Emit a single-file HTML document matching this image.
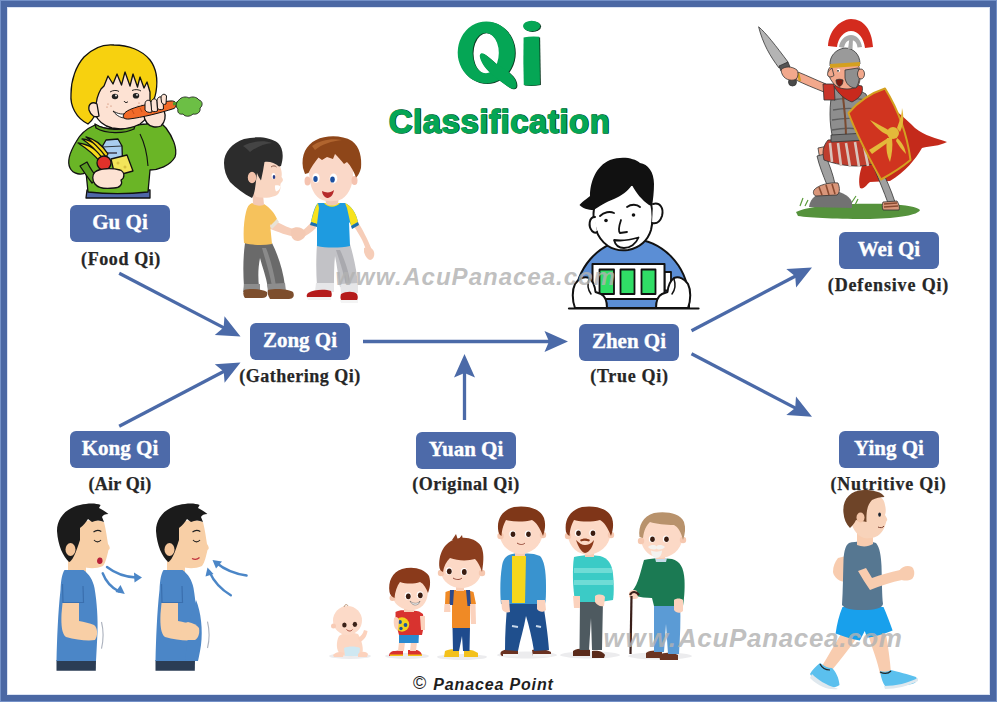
<!DOCTYPE html>
<html><head><meta charset="utf-8">
<style>
html,body{margin:0;padding:0;}
body{width:997px;height:702px;position:relative;overflow:hidden;background:#fff;font-family:"Liberation Sans",sans-serif;}
#frame{position:absolute;left:0;top:0;width:983px;height:688px;border:7px solid #4b68a4;background:#fff;}
#frame2{position:absolute;left:0;top:0;width:995px;height:700px;border:1px solid #7491c8;}
#frame3{position:absolute;left:7px;top:7px;width:981px;height:686px;border:1px solid #dbe3f3;}
.box{position:absolute;width:100px;height:37px;background:#4d6aa9;border-radius:6px;color:#fff;font:bold 21px/37px "Liberation Serif",serif;text-align:center;}
.box span{position:relative;top:-1px;-webkit-text-stroke:0.35px #fff;}
.sub{position:absolute;width:160px;margin-left:-80px;text-align:center;color:#262626;font:bold 18px/18px "Liberation Serif",serif;-webkit-text-stroke:0.25px #262626;}
.wm{position:absolute;color:rgba(178,178,178,0.82);font:bold italic 24px/24px "Liberation Sans",sans-serif;white-space:nowrap;}
svg{position:absolute;left:0;top:0;}
</style></head>
<body>
<div id="frame"></div><div id="frame2"></div><div id="frame3"></div>

<!-- title -->
<svg width="997" height="702" style="z-index:1">
<defs>
<g id="qi">
<path fill-rule="evenodd" d="M486.3,21.4 A28.6,31 0 1 1 486.29,21.4 Z M485.7,32.7 A13.1,20.3 0 1 0 485.71,32.7 Z"/>
<path d="M481,53.5 C484,52 490,59 498,65 C508,71 516.5,77 516.5,85 C516.5,90 512,89.5 507,86 C499,80 490,74 484,66 C480,60 478.5,55 481,53.5 Z"/>
<path d="M523.6,37.5 Q531,36 539.2,36.8 L540,84.5 Q531.5,86 523.8,85 Q523,60 523.6,37.5 Z"/>
<ellipse cx="531.6" cy="26" rx="8.6" ry="5.3"/>
</g>
</defs>
<use href="#qi" fill="#0c3b22" transform="translate(0.9,0.6)"/>
<use href="#qi" fill="#05a655"/>
<text x="389.1" y="133.4" font-family="Liberation Sans" font-weight="bold" font-size="33" letter-spacing="0.5" fill="#0d3a22" stroke="#0d3a22" stroke-width="1.3" stroke-linejoin="round">Classification</text>
<text x="388.5" y="132.8" font-family="Liberation Sans" font-weight="bold" font-size="33" letter-spacing="0.5" fill="#05a655" stroke="#05a655" stroke-width="1.1" stroke-linejoin="round">Classification</text>
</svg>

<div class="box" style="left:70px;top:205px"><span>Gu Qi</span></div>
<div class="box" style="left:250px;top:323px"><span>Zong Qi</span></div>
<div class="box" style="left:579px;top:324px"><span>Zhen Qi</span></div>
<div class="box" style="left:839px;top:232px"><span>Wei Qi</span></div>
<div class="box" style="left:70px;top:431px"><span>Kong Qi</span></div>
<div class="box" style="left:416px;top:432px"><span>Yuan Qi</span></div>
<div class="box" style="left:839px;top:431px"><span>Ying Qi</span></div>

<div class="sub" style="left:121px;top:249.5px;letter-spacing:0.6px">(Food Qi)</div>
<div class="sub" style="left:300px;top:366.8px;letter-spacing:0.5px">(Gathering Qi)</div>
<div class="sub" style="left:629.5px;top:366.8px;letter-spacing:0.7px">(True Qi)</div>
<div class="sub" style="left:888.5px;top:275.6px;letter-spacing:0.85px">(Defensive Qi)</div>
<div class="sub" style="left:120px;top:474.9px;letter-spacing:0.2px">(Air Qi)</div>
<div class="sub" style="left:466px;top:474.9px;letter-spacing:0.55px">(Original Qi)</div>
<div class="sub" style="left:888.5px;top:474.9px;letter-spacing:0.75px">(Nutritive Qi)</div>

<!-- illustrations -->
<svg width="997" height="702" viewBox="0 0 997 702">
<g id="boys2" stroke="none">
 <!-- LEFT BOY -->
 <!-- pants -->
 <path d="M245,243 L272,243 C278,255 283,270 285,286 L268,288 C266,276 262,266 260,258 C258,268 258,278 259,287 L244,287 C243,272 243,258 245,243 Z" fill="#6a6a6a"/>
 <path d="M262,248 C266,262 270,275 272,286 L276,286 C274,272 270,258 266,248 Z" fill="#8a8a8a"/>
 <path d="M244,284 L260,284 L260,292 L243,292 Z" fill="#8d8d8d"/>
 <path d="M267,284 L285,283 L286,291 L268,292 Z" fill="#8d8d8d"/>
 <!-- shoes -->
 <path d="M244,290 C250,288 262,289 267,292 C268,296 266,298 262,298 L245,298 C243,296 243,292 244,290 Z" fill="#7d4e2d"/>
 <path d="M268,290 C276,288 288,289 293,292 C295,296 293,299 289,299 L270,299 C268,296 267,292 268,290 Z" fill="#7d4e2d"/>
 <!-- arm -->
 <path d="M268,218 C278,222 288,228 296,230 L297,237 C288,236 278,232 268,228 Z" fill="#f6cdb8"/>
 <!-- shirt -->
 <path d="M252,203 C256,205 260,205 264,204 C270,208 274,212 277,219 L272,226 L270,224 L272,244 C262,246 252,245 244,243 C243,232 244,220 246,212 C247,207 249,204 252,203 Z" fill="#f6c25c"/>
 <path d="M270,226 L277,219 L279,222 L272,229 Z" fill="#e8e2d6"/>
 <!-- neck -->
 <path d="M252.5,192 L263,194 L264,205 C260,206 256,206 253,204 Z" fill="#f3c9b5"/>
 <!-- face -->
 <path d="M258,162 C266,160 276,162 280,166 C282,171 282,175 281.5,177 C283,178.5 283.5,180.5 282,182 C280.5,183 280,185 280.5,188 C280,192 278,195 275,196 C268,198.5 262,198 256,197 C252,190 252,172 258,162 Z" fill="#f9d6c2"/>
 <!-- hair -->
 <path d="M224,163 C224,152 232,143 244,139 C256,136 270,137 278,143 C283,148 284,156 281,166 L279,166.5 C275,163 269,161 264.5,162 L263,171 L261,180.5 C259.5,178 258,176 257,173 L255.5,185 C255,190 254,195 252,198 C244,194 236,188 230,182 C226,176 224,170 224,163 Z" fill="#2c2c2c"/>
 <path d="M243,146 C252,141 264,140 272,143 C264,144 256,147 250,152 C248,150 246,148 243,146 Z" fill="#444"/>
 <!-- ear -->
 <ellipse cx="252" cy="177.5" rx="4.2" ry="5.8" fill="#f3c2aa"/>
 <!-- eye -->
 <ellipse cx="273.5" cy="176" rx="1.9" ry="3" fill="#fff"/>
 <ellipse cx="274" cy="177" rx="1.3" ry="2" fill="#2a3f8a"/>
 <path d="M271,167 C273,165.5 275,165.5 276.5,167" fill="none" stroke="#7a4a3a" stroke-width="0.9"/>
 <path d="M275,185.5 C277,185 279.5,185.5 280.5,186.5 C280,189 278.5,191 276,191.5 C275,189.5 274.8,187.5 275,185.5 Z" fill="#fff"/>
 <!-- RIGHT BOY -->
 <!-- pants -->
 <path d="M317,244 L350,244 C354,258 357,272 358,286 L340,287 C338,276 337,265 335,256 C334,266 334,276 334,286 L317,286 C316,272 316,258 317,244 Z" fill="#c2c2c6"/>
 <path d="M336,250 C340,262 344,274 346,286 L351,286 C349,272 344,258 340,250 Z" fill="#a9a9ae"/>
 <path d="M316,283 L334,283 L334,292 L315,292 Z" fill="#e6e6e8"/>
 <path d="M340,284 L358,283 L358,293 L341,293 Z" fill="#e6e6e8"/>
 <!-- shoes -->
 <path d="M308,293 C314,289 326,289 331,291 C333,296 331,299 326,299 L310,299 C306,298 306,295 308,293 Z" fill="#b51b1b"/>
 <path d="M341,294 C346,291 354,291 357,294 C359,299 357,302 352,302 L344,302 C340,301 340,297 341,294 Z" fill="#b51b1b"/>
 <path d="M307,297 L331,297 L331,300 L308,300 Z" fill="#f4f4f4"/>
 <path d="M340,300 L358,300 L358,303 L341,303 Z" fill="#f4f4f4"/>
 <!-- arms -->
 <path d="M313,220 C308,226 304,230 300,232 L301,238 C306,236 312,232 316,228 Z" fill="#f6cdb8"/>
 <path d="M352,224 C358,232 364,242 366,250 L372,250 C368,240 362,228 357,221 Z" fill="#f6cdb8"/>
 <path d="M364,248 C368,246 373,248 374,252 C375,256 373,260 370,260 C367,259 365,256 364,252 Z" fill="#f6cdb8"/>
 <!-- handshake -->
 <path d="M291,229 C296,226 302,227 305,231 C307,235 304,240 298,241 C293,241 290,237 291,229 Z" fill="#f4c9b3"/>
 <!-- shirt -->
 <path d="M318,203 L345,203 C351,206 356,212 358,222 L352,226 L349,222 L350,246 C340,248 326,248 317,246 L317,224 L313,224 L311,222 C313,212 315,206 318,203 Z" fill="#1e9be0"/>
 <path d="M318,203 C315,207 313,214 311,222 L317,224 L319,208 Z" fill="#f7e21c"/>
 <path d="M345,203 C351,206 356,212 358,222 L351,226 L347,208 Z" fill="#f7e21c"/>
 <path d="M311,222 L317,224 L317,227 L310,225 Z" fill="#1a6fae"/>
 <path d="M351,226 L358,222 L359,225 L352,229 Z" fill="#1a6fae"/>
 <path d="M324,203 C328,208 336,208 340,203 L337,203 C334,206 330,206 327,203 Z" fill="#f7e21c"/>
 <!-- neck -->
 <path d="M325,196 L339,196 L338,204 C334,206 330,206 326,204 Z" fill="#f3c9b5"/>
 <!-- face -->
 <path d="M309,170 C308,160 316,154 330,154 C344,154 352,160 353,170 C354,182 350,194 342,199 C336,202 326,202 320,199 C312,194 309,182 309,170 Z" fill="#fad8c8"/>
 <ellipse cx="307.5" cy="181" rx="3" ry="4.5" fill="#f5c3b0"/>
 <ellipse cx="354.5" cy="180.5" rx="3" ry="4.5" fill="#f5c3b0"/>
 <!-- hair -->
 <path d="M303,168 C301,155 306,145 316,140 C326,135 342,135 352,141 C360,147 362,158 361,168 C360,172 358,176 356,177.5 C354,172 351,166 347,162 L344,164 C341,160 338,157 335,154 L333,159 L327,157 L322,160 L318.5,157.5 C315,162 311,167 308.5,173 L305,174 Z" fill="#8e4619"/>
 <path d="M312,146 C320,140 332,138 342,140 C332,141 322,144 315,150 Z" fill="#b0642e"/>
 <!-- eyes -->
 <ellipse cx="316" cy="178" rx="3.6" ry="4.8" fill="#fff"/>
 <ellipse cx="333.5" cy="178.5" rx="3.8" ry="5" fill="#fff"/>
 <ellipse cx="315.5" cy="179" rx="2.2" ry="3" fill="#1b4fa0"/>
 <ellipse cx="332.5" cy="179.5" rx="2.3" ry="3.1" fill="#1b4fa0"/>
 <path d="M322,191 C326,193 331,193 334,190 C333,196 330,198 327,198 C324,197 322,194 322,191 Z" fill="#b52a2a"/>
</g>
<g id="laptopman" stroke="#111" stroke-width="2" stroke-linejoin="round" stroke-linecap="round">
 <!-- body -->
 <path d="M575,299 C576,270 596,242 631,239 C664,240 686,266 689,296 L689,308 L575,308 Z" fill="#5b8ed5"/>
 <!-- face -->
 <path d="M594,208 C592,222 596,238 608,246 C614,250 620,251 628,250 C640,248 648,240 651,230 C653,222 653,212 651,203 L648,190 C630,180 610,186 596,196 Z" fill="#fff"/>
 <path d="M595,217 C589,217 588,226 592,231 C594,233 596,233 597,232" fill="#fff"/>
 <path d="M653,204 C660,202 664,208 662,216 C660,222 656,224 652,223" fill="#fff"/>
 <!-- hair -->
 <path d="M579.5,205 C584,200 588,198 590,196 C590,182 596,166 610,160 C622,156 634,158 640,163 C648,164 654,172 654,184 C654,192 653,200 652,206 L649,205 C642,200 636,193 632,185 C627,192 621,196 614,199 C606,202 598,207 594,210 C588,210 582,208 579.5,205 Z" fill="#111" stroke="none"/>
 <!-- brows -->
 <path d="M600,216 C604,212 610,211 614,213" fill="none" stroke-width="1.8"/>
 <path d="M627,207 C631,204 637,204 640,207" fill="none" stroke-width="1.8"/>
 <circle cx="606" cy="220.5" r="1.8" fill="#111" stroke="none"/>
 <circle cx="633.5" cy="215" r="1.8" fill="#111" stroke="none"/>
 <path d="M621,220 C619,226 618,231 620,233 L627,232" fill="none" stroke-width="1.8"/>
 <path d="M614,240 C620,241 630,240 638.5,237.5 C636,244 630,248 624,248 C618,248 615,244 614,240 Z" fill="#fff" stroke-width="1.8"/>
 <!-- battery -->
 <rect x="664.5" y="272" width="6.5" height="18.5" fill="#fff" stroke-width="1.8"/>
 <rect x="592.5" y="264" width="72" height="35" fill="#fff" stroke-width="2"/>
 <rect x="599.5" y="269.5" width="14.5" height="24.5" fill="#30dd66" stroke-width="1.8"/>
 <rect x="620.5" y="269.5" width="14" height="24.5" fill="#30dd66" stroke-width="1.8"/>
 <rect x="641.5" y="269.5" width="14" height="24.5" fill="#30dd66" stroke-width="1.8"/>
 <!-- hands -->
 <path d="M575,308 C572,300 572,290 575,284 C578,279 584,276 589,278 C593,281 595,287 595.5,292 L601,294 C605,296 607,301 607,308 Z" fill="#fff"/><path d="M589,279 C587,285 588,290 591,294" fill="none" stroke-width="1.5"/>
 <path d="M688,308 C691,300 691,290 688,284 C685,279 679,276 674,278 C670,281 668,287 667.5,292 L662,294 C658,296 656,301 656,308 Z" fill="#fff"/><path d="M674,279 C676,285 675,290 672,294" fill="none" stroke-width="1.5"/>
 <!-- table -->
 <line x1="569" y1="308.5" x2="698.5" y2="308.5" stroke-width="2.2"/>
</g>
<g id="soldier" stroke="#333" stroke-width="0.8" stroke-linejoin="round">
 <!-- grass -->
 <path d="M796,212 C810,205 850,203 890,204 C905,205 918,207 920,210 C918,215 900,218 870,219 C840,219 810,218 798,216 Z" fill="#55923c" stroke="none"/>
 <path d="M800,206 L803,198 M805,206 L808,200 M850,205 L856,196 M855,205 L858,199" stroke="#5a9a3a" stroke-width="1.2" fill="none"/>
 <!-- rock -->
 <path d="M809,207 C810,198 818,192 828,191 C838,190 848,194 852,202 L852,208 Z" fill="#727272" stroke="none"/>
 <!-- cape back -->
 <path d="M875,98 C890,104 905,118 915,128 C925,136 936,138 947,142 C940,146 930,146 922,148 C915,160 905,172 890,181 L870,182 C866,185 864,190 860,188 C858,180 860,172 862,166 Z" fill="#c42a1b" stroke="none"/>
 <!-- right leg -->
 <path d="M874,168 L880,167 C886,178 891,190 895,202 L888,203 C884,192 879,180 874,168 Z" fill="#a0a0a0"/>
 <path d="M883,202 L897,201 C899,204 900,208 899,210 L883,210 C882,207 882,204 883,202 Z" fill="#d9967a"/><path d="M884,204 L897,203 M884,207 L898,206" stroke="#8a4a30" stroke-width="1.3" fill="none"/>
 <!-- left leg -->
 <path d="M818,148 L828,146 L830,158 L820,160 Z" fill="#f2a88c"/><path d="M817,156 L825,154 C829,164 833,174 835,184 L827,185 C823,175 819,165 817,156 Z" fill="#a0a0a0"/>
 <path d="M814,190 C818,185 830,182 838,183 C840,188 840,193 837,195 L816,196 C813,195 813,192 814,190 Z" fill="#d9967a"/><path d="M819,187 L822,195 M826,185 L829,195 M832,184 L835,194" stroke="#8a4a30" stroke-width="1.6" fill="none"/>
 <!-- skirt -->
 <path d="M828,140 L866,138 L873,164 C860,168 840,166 824,160 C822,152 823,146 828,140 Z" fill="#bf3d2e"/>
 <path d="M830,143 L832,162 M838,143 L841,166 M846,143 L850,167 M855,142 L859,167 M863,141 L868,166" stroke="#d8c4bc" stroke-width="2.6" fill="none"/>
 <!-- torso armor -->
 <path d="M833,88 C842,86 856,88 866,94 C870,106 868,124 864,138 C854,141 842,141 833,139 C829,124 829,104 833,88 Z" fill="#8e8e8e"/>
 <path d="M834,100 C842,98 856,98 866,100 M833,110 C842,108 856,108 867,110 M832,120 C842,118 856,118 866,120 M832,130 C842,128 856,128 865,130" stroke="#5e5e5e" stroke-width="1.3" fill="none"/>
 <path d="M842,90 C844,104 846,120 846,138" stroke="#7a4a30" stroke-width="2" fill="none"/>
 <path d="M831,135 L866,133 L867,140 L831,142 Z" fill="#777"/>
 <!-- arm -->
 <path d="M798,72 C808,76 816,80 826,84 L824,92 C814,88 804,84 796,80 Z" fill="#f2a88c"/>
 <path d="M823,84 L834,84 L835,100 L824,100 Z" fill="#c8352a"/>
 <path d="M798,73 L800,81" stroke="#d4a020" stroke-width="2.4" fill="none"/>
 <!-- sword -->
 <path d="M758.6,26.8 C766,33 776,46 788,62 L779,68 C770,56 763,44 758.6,26.8 Z" fill="#b4b4b4"/>
 <path d="M779,66 L788,62 L790,67 L781,71 Z" fill="#555"/>
 <circle cx="792.5" cy="82" r="4" fill="#4a4a4a"/>
 <path d="M781,70 C784,66 792,66 797,70 C799,74 798,79 794,80 C788,81 782,78 781,70 Z" fill="#f2a88c"/>
 <!-- scarf -->
 <path d="M834,86 C842,84 852,84 862,86 C864,92 860,98 852,102 C846,100 838,94 834,86 Z" fill="#c8291d"/>
 <!-- face -->
 <path d="M831,66 L858,64 C861,72 861,80 858,86 C852,90 842,90 836,86 C832,82 829,78 828,72 C828,70 829,68 831,66 Z" fill="#f2a88c"/>
 <path d="M845,70 L858,68 C860,74 860,82 856,88 C850,88 846,84 845,78 Z" fill="#8f8f8f"/>
 <ellipse cx="861" cy="74" rx="3.5" ry="5" fill="#f2a88c"/>
 <path d="M836,80 C838,79 841,79 843,80 C843,83 842,86 839,86.5 C837,85 836,83 836,80 Z" fill="#7a1a10"/><path d="M832,68 C829,70 826.5,73 828,76 C829.5,77.5 832,77 834,75.5 Z" fill="#f2a88c"/><ellipse cx="838.5" cy="70.5" rx="1.6" ry="1.8" fill="#fff" stroke="none"/><circle cx="838" cy="70.8" r="0.9" fill="#222" stroke="none"/>
 <!-- helmet -->
 <path d="M830,66 C829,56 836,49 845,48 C853,48 860,54 860,64 Z" fill="#9a9a9a"/>
 <path d="M830,64 L860,62 L860,66 L830,68 Z" fill="#d4a020" stroke="none"/>
 <!-- plume -->
 <path d="M828,46 C829,32 838,20 851,19 C864,19 872,30 873,47 L865,48 C864,38 858,31 851,31 C844,31 838,38 837,47 Z" fill="#d42b1e" stroke="none"/>
 <path d="M839,47 C840,40 845,35 851,35 C857,35 861,40 862,47 L857.5,47.5 C857,42 854,40 851,40 C848,40 845,42 844,48 Z" fill="#a9a9a9" stroke="none"/>
 <path d="M848,49 L849.5,38 L853,38 L852.5,49 Z" fill="#a9a9a9" stroke="none"/>
 <!-- shield -->
 <path d="M848.5,113 C858,102 871,93 885,88.5 C897,108 907,133 910.5,160 C901,168 891,174 881,179.5 C869,158 857,136 848.5,113 Z" fill="#d0341f" stroke="#d4a020" stroke-width="2"/>
 <circle cx="893" cy="133" r="6" fill="#e3b93a" stroke="none"/>
 <path d="M870,120 C878,124 885,128 890,131 L895,137 C886,136 878,130 870,120 Z" fill="#e3b93a" stroke="none"/>
 <path d="M897,128 C900,120 902,114 902,108 C904,116 904,124 900,132 Z" fill="#e3b93a" stroke="none"/>
 <path d="M887,138 C886,146 886,154 890,162 C892,154 893,146 892,138 Z" fill="#e3b93a" stroke="none"/>
 <path d="M869,150 L888,138 L890,141 L872,154 Z" fill="#e3b93a" stroke="none"/>
 <path d="M897,138 C902,142 905,148 906,154 C902,150 899,146 896,141 Z" fill="#e3b93a" stroke="none"/>
</g>
<g id="breath" stroke="none">
 <defs>
  <g id="bman">
   <!-- pants -->
   <path d="M56.5,660 L96,660 L95.8,670.7 L56.5,670.7 Z" fill="#2b3d55"/>
   <!-- neck -->
   <path d="M70,552 L86,556 L86,574 L68,574 L68,562 Z" fill="#f8cfa6"/>
   <!-- shirt -->
   <path d="M64.5,570 L83.5,570 C89,574 93,580 94.5,588 C97,602 98,620 97.5,632 C97,642 96.5,652 96,661 L56.5,661 C57,640 58,612 60.5,590 C61,580 62,574 64.5,570 Z" fill="#4b86c7"/>
   <path d="M62.5,584 L63,602.5 L83.5,602.5 L83,586" fill="none" stroke="#3a6fae" stroke-width="1.2"/>
   <!-- arm -->
   <path d="M62.5,603 L79,603 L79,621 C84,622 90,623 94,625 C98,628 98,636 95,640 C88,641 76,640 66,637 C62,634 61,626 61.5,614 Z" fill="#f8cfa6"/>
   <!-- face -->
   <path d="M77,524 C84,520 96,519 104,522 C106,530 107,538 108,544 C110,547 110.5,549 108.5,550 C107,556 106,562 103,566 C96,569 88,569 82,566 C76,560 72,548 73,534 Z" fill="#f8cfa6"/>
   <!-- hair -->
   <path d="M57,531 C57,518 66,508 80,505 C88,503 96,503 100.6,505 L99,508 C103,510 106,512 108.4,514 C105,514 103,515 102,517 L104,522 C100,520 96,520 92,522 L88,519 C86,522 84,525 80,528 L80,540 C78,546 76,552 74,556 C72,560 70,562 69,562 C63,556 58,546 57,531 Z" fill="#1b1b1b"/>
   <!-- ear -->
   <ellipse cx="70.5" cy="549.5" rx="5" ry="6.5" fill="#f4c59a"/>
   <!-- eyebrow/eye -->
   <path d="M93.5,532 C96,530 99,530 101.3,531.5" fill="none" stroke="#222" stroke-width="1.1"/>
   <path d="M94,540 C96,542.5 99,542.5 101,540" fill="none" stroke="#222" stroke-width="1.1"/>
  </g>
 </defs>
 <use href="#bman"/>
 <path d="M97.5,559 C99,557 102,557 102.5,560 C103,563 101,564.5 99,564 C97,563.5 96.5,561 97.5,559 Z" fill="#b8203a"/>
 <g transform="translate(99,0)">
  <use href="#bman"/>
 </g>
 <!-- belly man2 -->
 <path d="M196,600 C201,612 203,630 201,645 C200,652 199,656 198,661 L185,661 L190,620 Z" fill="#4b86c7"/>
 <path d="M188,622 C193,623 197,625 199,628 C200,634 198,638 195,640 L180,640 L182,624 Z" fill="#f8cfa6"/>
 <path d="M192,558.5 C195,560 197.5,559.5 199.5,557.5" fill="none" stroke="#c0303a" stroke-width="1.2"/>
 <!-- belly lines -->
 <path d="M101.5,622 C103.5,630 103.5,640 101.5,648.6" fill="none" stroke="#aab0bc" stroke-width="1.1"/>
 <path d="M207.5,621.6 C209.5,630 209.5,640 207.5,648" fill="none" stroke="#aab0bc" stroke-width="1.1"/>
 <!-- arrows -->
 <g fill="none" stroke="#4b86c7" stroke-width="2.4" stroke-linecap="round">
  <path d="M107,567 C116,574 126,577 136,577.5"/>
  <path d="M102.7,573.3 C106,582 112,588 119,591.5"/>
  <path d="M246.6,575.5 C236,574 225,570 216.5,563"/>
  <path d="M230.8,595.3 C222,590 214,582 209.5,572"/>
 </g>
 <g fill="#4b86c7">
  <path d="M142,577.6 L134,572.5 L134.5,582.5 Z"/>
  <path d="M124.8,594 L115.5,592 L120.5,585 Z"/>
  <path d="M212.5,560 L222,561.5 L216,568.5 Z"/>
  <path d="M207.5,567.5 L205.5,576.5 L213.5,574 Z"/>
 </g>
</g>
<g id="family" stroke="none">
 <!-- shadows -->
 <g fill="#ececee">
  <ellipse cx="350" cy="656" rx="21" ry="3"/>
  <ellipse cx="407" cy="656" rx="22" ry="3"/>
  <ellipse cx="462" cy="657" rx="25" ry="3"/>
  <ellipse cx="527" cy="655" rx="30" ry="3.5"/>
  <ellipse cx="590" cy="655" rx="30" ry="3.5"/>
  <ellipse cx="660" cy="656" rx="32" ry="3.5"/>
 </g>
 <!-- BABY -->
 <path d="M339,636 C336,642 336,650 340,654 C346,657 356,657 362,654 C364,650 362,640 358,634 C352,632 344,632 339,636 Z" fill="#fcd7c3"/>
 <path d="M344,648 C348,646 356,646 360,648 L359,656 L345,656 Z" fill="#cfe8f2"/>
 <path d="M333,655 C336,652 340,651 344,653 L343,657 L334,657 Z" fill="#fcd2bd"/>
 <path d="M358,654 C361,651 366,651 368,654 L367,657 L358,657 Z" fill="#fcd2bd"/>
 <path d="M358,638 C361,636 363,634 364,630 L367.5,631 C367,636 364,640 360,642 Z" fill="#fcd2bd"/>
 <circle cx="347.5" cy="620.5" r="14.5" fill="#fcdac8"/>
 <circle cx="333.5" cy="626" r="2.5" fill="#f8cbb5"/>
 <ellipse cx="344.4" cy="625" rx="2.2" ry="2.6" fill="#3a2218"/>
 <ellipse cx="354.9" cy="624.3" rx="2.2" ry="2.6" fill="#3a2218"/>
 <path d="M346.5,629.5 C348.5,631.5 351,631.5 352.5,629.5" fill="none" stroke="#a04030" stroke-width="0.9"/>
 <path d="M344,607 C345,604 347,604 348,606" fill="none" stroke="#b89070" stroke-width="1"/>
 <!-- KID 2 -->
 <path d="M395,651 L403,650 L403,656 L389,656 C389,653 391,651 395,651 Z" fill="#d8322f"/>
 <path d="M408,650 L417,650 C420,651 422,653 422,656 L408,656 Z" fill="#d8322f"/>
 <path d="M390,654.5 L403,654.5 L403,656 L390,656 Z M408,654.5 L422,654.5 L422,656 L408,656 Z" fill="#f2c018"/>
 <path d="M399,642 L405,642 L404,651 L398,651 Z M411,642 L417,642 L416,651 L410,651 Z" fill="#fbd2bd"/>
 <path d="M399,633 L419,633 L418.5,643 L399,643 Z" fill="#2a8ad0"/>
 <path d="M395.5,612 C399,610 404,610 410,611 C416,610 420,611 423,614 C424,620 424,628 422,635 L399,635 C397,628 395,620 395.5,612 Z" fill="#d8332f"/>
 <path d="M420,616 L425,616 L425,630 L421,630 Z" fill="#fbd2bd"/>
 <circle cx="402" cy="624.5" r="7.2" fill="#f3d21c"/>
 <circle cx="400" cy="622" r="1.9" fill="#1c55a0"/><circle cx="405.5" cy="625" r="1.9" fill="#1c55a0"/><circle cx="401" cy="628.5" r="1.7" fill="#1c55a0"/>
 <path d="M394,618 C396,616 398,617 399,620 L398,630 C395,630 393,626 394,618 Z" fill="#fbd2bd"/>
 <path d="M404,606 L414,606 L414,612 L404,612 Z" fill="#f8cdb6"/>
 <path d="M393,588 C393,580 400,576 410,576 C421,576 428,581 428,590 C428,600 424,608 414,610 C404,611 395,606 393,598 Z" fill="#fcd9c6"/>
 <circle cx="392.5" cy="598" r="3" fill="#f6c8b0"/>
 <path d="M389.5,592 C388,582 392,572 402,569 C412,566 424,568 429,576 C431,582 430,588 428,593 C426,588 424,584 420,582 C414,584 406,584 400,582 C397,586 395,592 394.5,598 C392,597 390,595 389.5,592 Z" fill="#8a3a1b"/>
 <ellipse cx="408" cy="596" rx="3.3" ry="3.8" fill="#fff"/><ellipse cx="408.3" cy="596.3" rx="2.4" ry="2.9" fill="#3a1c10"/>
 <ellipse cx="420" cy="595" rx="3.3" ry="3.8" fill="#fff"/><ellipse cx="420.3" cy="595.3" rx="2.4" ry="2.9" fill="#3a1c10"/>
 <path d="M410,601 C413,604 418,604 420,601 L419,603.5 C416,606 412,605.5 410,601 Z" fill="#fff" stroke="#555" stroke-width="0.5"/>
 <!-- KID 3 -->
 <path d="M445,651 C449,649 455,649 459,650 L459,657 L444,657 Z" fill="#f3c11c"/>
 <path d="M464,650 C469,649 474,650 478,653 L478,657 L464,657 Z" fill="#f3c11c"/>
 <path d="M452.5,627 L470,627 L469.5,651 L463,651 L462,636 L459,651 L453,651 Z" fill="#1f4b8d"/>
 <path d="M445.5,592 C452,589 466,589 473.5,592 L476,604 L470,604 L470,628 L452,628 L452,604 L445,604 Z" fill="#f08a25"/>
 <path d="M450,590 L454,590 L453,605 L449.5,605 Z M466,590 L470,590 L471,606 L467.5,606 Z" fill="#2e4a8a"/>
 <path d="M444.5,604 L450,604 L450.5,612 L444,612 Z" fill="#fbd2bd"/>
 <path d="M470,604 L475.5,604 L476,624 L471,624 Z" fill="#fbd2bd"/>
 <path d="M456,584 L464,584 L464,591 L456,591 Z" fill="#f8cdb6"/>
 <path d="M441,565 C441,556 449,552 461,552 C474,552 482,557 482,567 C482,578 476,586 464,588 C452,589 442,582 441,572 Z" fill="#fcd9c6"/>
 <circle cx="441" cy="573" r="3.2" fill="#f6c8b0"/><circle cx="482" cy="573" r="3.2" fill="#f6c8b0"/>
 <path d="M439.5,568 C438,555 444,542 456,539 C464,536 476,538 481,546 C484,552 484,560 482,572 C480,566 478,562 475,559 C468,561 458,561 450,558 C446,562 444,566 443,572 C441,571 440,570 439.5,568 Z" fill="#8b3e1e"/>
 <path d="M452,540 L456,534 L458,540 L462,535 L463,540 Z" fill="#8b3e1e"/>
 <ellipse cx="449" cy="571" rx="3.3" ry="3.8" fill="#fff"/><ellipse cx="449.3" cy="571.3" rx="2.4" ry="2.9" fill="#3a1c10"/>
 <ellipse cx="464" cy="571.7" rx="3.3" ry="3.8" fill="#fff"/><ellipse cx="464.3" cy="572" rx="2.4" ry="2.9" fill="#3a1c10"/>
 <path d="M453,578 C456,580 460,580 462,578" fill="none" stroke="#8a3a2a" stroke-width="0.9"/>
 <!-- ADULT 1 -->
 <path d="M502,651 C506,648 514,648 518,650 L518,656 L502,656 C500,655 500,652 502,651 Z" fill="#6a3222"/>
 <path d="M532,650 C538,648 546,649 551,652 L551,656 L533,656 Z" fill="#6a3222"/>
 <path d="M503,654 L518,654 L518,656.5 L503,656.5 Z M533,654 L551,654 L551,656.5 L533,656.5 Z" fill="#f4f4f4"/>
 <path d="M507.5,602 L543,602 C545,616 548,634 549,650 L534,651 C532,638 529,626 526,616 C524,628 520,640 518,651 L505,650 C505,634 506,618 507.5,602 Z" fill="#1f4f8d"/>
 <path d="M512,626 L518,627 M536,626 L541,627" stroke="#c8d8ea" stroke-width="2" fill="none"/>
 <path d="M509,555 C514,553 520,553 522,554 C526,553 534,553 540,556 C544,560 546,570 546,586 C546,594 546,600 545,604 L501,604 C500,594 500,578 502,566 C503,560 505,557 509,555 Z" fill="#3993cf"/>
 <path d="M512,556 L526,556 L525,603 L512,603 Z" fill="#f6d61b"/>
 <path d="M501,600 L509,600 L510,612 C507,613 503,612 502,609 Z" fill="#fbd2bd"/>
 <path d="M537,600 L545,600 L546,610 C543,613 539,612 537,609 Z" fill="#fbd2bd"/>
 <path d="M515,548 L525,548 L525,556 L515,556 Z" fill="#f8cdb6"/>
 <path d="M500,528 C500,518 508,514 521,514 C534,514 543,519 543,530 C543,542 536,552 522,554 C510,554 501,546 500,536 Z" fill="#fcd9c6"/>
 <circle cx="500.5" cy="536" r="3.2" fill="#f6c8b0"/><circle cx="543" cy="535" r="3.2" fill="#f6c8b0"/>
 <path d="M498.5,532 C496,520 502,510 514,507 C526,505 540,508 544,518 C546,524 545,530 543,536 C540,528 536,522 532,520 C524,522 514,522 506,520 C504,524 502,528 501.5,536 C500,535 499,534 498.5,532 Z" fill="#7f3718"/>
 <ellipse cx="512.5" cy="534" rx="3.2" ry="3.6" fill="#fff"/><ellipse cx="513" cy="534.3" rx="2.3" ry="2.7" fill="#3a1c10"/>
 <ellipse cx="528" cy="534" rx="3.2" ry="3.6" fill="#fff"/><ellipse cx="528.5" cy="534.3" rx="2.3" ry="2.7" fill="#3a1c10"/>
 <path d="M517,543 C520,545 523,545 525,543" fill="none" stroke="#8a3a2a" stroke-width="0.9"/>
 <!-- ADULT 2 -->
 <path d="M573,651 C578,648 586,648 590,650 L590,656 L573,656 Z" fill="#5a2a1a"/>
 <path d="M592,651 C597,650 603,651 605,655 L604,658 L592,658 Z" fill="#5a2a1a"/>
 <path d="M580,600 L603,600 L602,650 L592,650 L591,618 L589,650 L579.5,650 Z" fill="#4e5a60"/>
 <path d="M574,557 C582,555 592,555 600,556 C608,558 612,564 613,574 C614,584 614,594 613,600 L600,602 L580,602 L575,601 C573,590 572,570 574,557 Z" fill="#3bcbc6"/>
 <path d="M574,568 L612,568 L612,573 L574,573 Z M574,580 L613,580 L613,585 L574,585 Z" fill="#6fdcd6"/>
 <path d="M573,596 L580,596 L580,608 L574,608 Z" fill="#fbd2bd"/>
 <path d="M595,596 C598,594 603,594 605,597 L604,606 C600,607 597,605 595,602 Z" fill="#fbd2bd"/>
 <path d="M585,549 L594,549 L594,557 L585,557 Z" fill="#f8cdb6"/>
 <path d="M568,528 C568,518 576,514 589,514 C602,514 611,519 611,530 C611,542 604,552 590,555 C578,555 569,547 568,536 Z" fill="#fcd9c6"/>
 <circle cx="568" cy="536" r="3.2" fill="#f6c8b0"/><circle cx="611" cy="535" r="3.2" fill="#f6c8b0"/>
 <path d="M576,540 C578,546 581,552 585,553 C590,552 593,546 594,540 C591,544 588,545 585,545 C582,545 579,543 576,540 Z" fill="#8b3a1c"/><path d="M580,540 C583,538 587,538 590,540 L589,541.5 C586,540.5 583,540.5 581,541.5 Z" fill="#8b3a1c"/>
 <path d="M566,532 C564,520 570,510 582,507 C594,505 608,508 612,518 C614,524 613,530 611,536 C608,528 604,522 600,520 C592,522 582,522 574,520 C572,524 570,528 569.5,536 C568,535 567,534 566,532 Z" fill="#7f3518"/>
 <ellipse cx="578" cy="533" rx="3.2" ry="3.6" fill="#fff"/><ellipse cx="578.5" cy="533.3" rx="2.3" ry="2.7" fill="#3a1c10"/>
 <ellipse cx="592.5" cy="533" rx="3.2" ry="3.6" fill="#fff"/><ellipse cx="593" cy="533.3" rx="2.3" ry="2.7" fill="#3a1c10"/>
 <!-- OLD MAN -->
 <path d="M646,653 C650,650 658,650 662,652 L662,658 L646,658 Z" fill="#6a3422"/>
 <path d="M659,655 C664,652 672,652 678,655 L678,660 L660,660 Z" fill="#6a3422"/>
 <path d="M654,604 L680,604 C681,620 680,636 679,654 L668,654 L666,624 L664,652 L654,652 Z" fill="#5b9bd5"/>
 <path d="M644,560 C652,558 664,558 672,559 C680,561 684,568 684.5,580 C685,590 684,600 683,606 L654,606 L652,598 C646,598 640,597 636,596 L633,590 C638,584 640,574 644,560 Z" fill="#1b7a53"/>
 <path d="M655,558 L667,558 L666,562 L656,562 Z" fill="#c7dbe8"/>
 <path d="M629,593 C630,590 634,589 637,591 L638,598 C635,600 631,599 629,597 Z" fill="#fbd2bd"/>
 <path d="M674,600 C676,598 681,598 683,600 L683,611 C680,614 676,613 674,610 Z" fill="#fbd2bd"/>
 <path d="M631.5,596 L630.5,654" stroke="#3a1f1a" stroke-width="2.2" fill="none"/>
 <path d="M630,595 C632,591 636,591 639,595" stroke="#3a1f1a" stroke-width="2.2" fill="none"/>
 <path d="M656,551 L665,551 L665,559 L656,559 Z" fill="#f8cdb6"/>
 <path d="M641,533 C641,522 648,518 661,518 C674,518 683,523 683,534 C683,546 676,556 662,558 C650,558 642,550 641,540 Z" fill="#fcd9c6"/>
 <circle cx="641" cy="541" r="3.2" fill="#f6c8b0"/><circle cx="683" cy="540" r="3.2" fill="#f6c8b0"/>
 <path d="M648,547 C651,544.5 655,544.5 656.5,546.5 C658,544.5 662,544.5 665,547 C662,550 658,550 656.5,548.5 C655,550 651,550 648,547 Z" fill="#f4f2ef"/><path d="M651,550.5 C654,552 659,552 662,550.5 C662,555 659.5,558 656.5,558 C653.5,558 651,555 651,550.5 Z" fill="#f4f2ef"/>
 <path d="M639.5,537 C638,526 643,516 654,513 C666,511 680,513 684,522 C686,528 685,534 683,540 C681,532 678,527 674,525 C666,525 656,524 650,522 C646,526 644,530 643,538 Z" fill="#b8926c"/>
 <ellipse cx="652" cy="539" rx="3.2" ry="3.6" fill="#fff"/><ellipse cx="652.5" cy="539.3" rx="2.3" ry="2.7" fill="#3a1c10"/>
 <ellipse cx="666" cy="539" rx="3.2" ry="3.6" fill="#fff"/><ellipse cx="666.5" cy="539.3" rx="2.3" ry="2.7" fill="#3a1c10"/>
</g>
<g id="runner" stroke="none">
 <!-- legs -->
 <path d="M842,632 L858,636 C850,648 840,660 832,670 L822,666 C828,656 835,644 842,632 Z" fill="#f8ccaf"/>
 <path d="M868,634 L886,634 C888,646 890,660 891,673 L880,674 C878,662 872,648 868,634 Z" fill="#f8ccaf"/>
 <!-- shoes -->
 <path d="M820,663 C824,666 828,668 832,668 C836,672 839,678 839.5,685 C836,688 830,688 824,686 C818,682 812,678 810,674 C812,670 816,666 820,663 Z" fill="#5bc0ee"/>
 <path d="M812,674 C818,680 826,685 836,688 L838,689 C830,690 820,688 810,678 Z" fill="#dfe8ee"/>
 <path d="M820,664 C822,668 826,670 830,670" fill="none" stroke="#222" stroke-width="1.2"/>
 <path d="M880,671 C884,672 888,672 891,670 C898,672 908,674 916,677 C918,680 916,683 912,684 C904,686 894,687 886,687 C883,684 881,678 880,671 Z" fill="#5bc0ee"/>
 <path d="M884,686 C896,686 908,683 918,678 L918,681 C908,686 896,689 885,689 Z" fill="#dfe8ee"/>
 <path d="M880,672 C884,674 888,674 891,671" fill="none" stroke="#222" stroke-width="1.2"/>
 <!-- back arm -->
 <path d="M838,558 L846,556 L846,582 C840,582 834,578 833,572 C833,566 835,562 838,558 Z" fill="#f8ccaf"/>
 <!-- shorts -->
 <path d="M842.5,607 L883.5,607 C887,615 890,623 892.6,630.6 C884,634 875,637 867,637.7 L864.8,631 L859.8,640.6 C851,639 843,636 835.6,633.4 C837,624 839,615 842.5,607 Z" fill="#18a0ec"/>
 <!-- shirt -->
 <path d="M849,543 C855,541 870,541 876,543 C880,548 881,556 881.5,566 C882,582 882,596 883,604 C882,608 876,610 862,610 C850,610 844,608 842,605 C843,590 843,575 843.5,560 C844,550 846,545 849,543 Z" fill="#567791"/>
 <!-- neck -->
 <path d="M857,532 L873,532 L873,544 C868,547 862,547 857,545 Z" fill="#f8ccaf"/>
 <!-- front arm -->
 <path d="M858,571 C862,578 866,584 870,590 C880,586 892,582 902,580 L900,570 C890,572 880,575 872,578 L866,568 Z" fill="#f8ccaf"/>
 <path d="M899,571 C902,566 908,565 912,567 C915,570 915,576 912,579 C908,581 903,581 900,579 Z" fill="#f8ccaf"/>
 <!-- head -->
 <path d="M852,505 C852,498 860,495 870,495 C880,495 884,498 885,505 C886,509 886,512 885,515 C887,518 888,520 886.5,521 C885,526 884,530 880,534 C876,538 870,539 864,538 C856,535 851,527 851,518 Z" fill="#f8d3ba"/>
 <path d="M843.5,513 C842,500 850,490 864,490 C874,490 882,492 884.5,497 C880,497 876,498 872,500 C868,504 866,510 866.5,522 C862,521 858,520 856,520 C854,524 852,526 850,528 C846,524 844,519 843.5,513 Z" fill="#6e4428"/>
 <ellipse cx="860.5" cy="517.5" rx="4" ry="5" fill="#f3c4a6"/>
 <ellipse cx="879.6" cy="514.6" rx="1.4" ry="2.2" fill="#1a2430"/>
 <path d="M878,527 C880,528 883,528 884,526" fill="none" stroke="#7a4030" stroke-width="1"/>
</g>
<g id="boy1" stroke="#111" stroke-width="1.3" stroke-linejoin="round">
 <!-- pants -->
 <path d="M87,190 L150,190 L150,198 L86,198 Z" fill="#4f67a8"/>
 <!-- sweater body -->
 <path d="M95,125 C88,128 80,134 76,142 C70,152 67,162 70,168 C73,174 82,176 86,172 L88,192 C105,194 130,194 148,192 L150,170 C158,170 170,166 175,157 C178,148 172,136 166,128 L160,122 L146,124 C140,124 137,125 134,126 C122,130 106,130 95,125 Z" fill="#6ab526"/>
 <path d="M140,134 C144,142 147,152 148,166" fill="none" stroke-width="1.1"/>
 <!-- collar -->
 <path d="M95,124 C106,131 124,131 135,125 L134,129 C124,134 106,134 96,128 Z" fill="#5a9e22"/>
 <!-- face -->
 <path d="M98,80 C94,92 93,106 95,114 C98,121 104,126 112,128 C122,130 132,128 140,124 C146,120 150,112 151,104 C152,96 151,86 148,76 C136,66 110,66 98,80 Z" fill="#fde2d3"/>
 <!-- hair -->
 <path d="M88,124 C76,118 70,106 71,94 C71,80 76,66 84,57 C93,48 104,44 114,45 C128,45 142,50 150,60 C156,68 158,80 156,92 C155,98 153,102 150,102 L150,92 L147,82 L144,88 L140,77 L137.5,87 L133,74 L130,86 L125,72 L121.5,85 L117,74 L113,84 L108,76 L104,86 L101,89 C98,94 96,100 96,108 C96,114 93,120 88,124 Z" fill="#f7d10f"/>
 <!-- ear -->
 <path d="M97,104 C92,101 88,104 89,110 C91,116 95,118 99,116 Z" fill="#fde2d3"/>
 <!-- eyes -->
 <ellipse cx="115" cy="96.5" rx="3.2" ry="2.8" fill="#222" stroke="none"/>
 <ellipse cx="136" cy="95.8" rx="3.2" ry="2.8" fill="#222" stroke="none"/>
 <circle cx="116" cy="95.5" r="0.9" fill="#fff" stroke="none"/><circle cx="137" cy="94.8" r="0.9" fill="#fff" stroke="none"/>
 <path d="M110,92 C113,90 117,90 119,91.5 M132,90.5 C135,89 139,89.5 141,91" fill="none" stroke-width="0.9"/>
 <path d="M124,101 C125,103 127,103 128,101.5" fill="none" stroke-width="0.9"/>
 <g fill="#c07050" stroke="none"><circle cx="108" cy="104" r="0.6"/><circle cx="111" cy="106" r="0.6"/><circle cx="107" cy="107" r="0.6"/><circle cx="139" cy="103" r="0.6"/><circle cx="142" cy="105" r="0.6"/><circle cx="138" cy="106" r="0.6"/></g>
 <!-- mouth -->
 <path d="M113,111 C118,118 126,120 131,116 L128,113 C123,115 118,114 113,111 Z" fill="#fff" stroke-width="0.9"/>
 <!-- hand palm -->
 <path d="M145,110 C150,108 160,108 164,110 C166,116 165,122 161,126 C156,128 150,127 147,123 C144,119 143,114 145,110 Z" fill="#fde2d3"/>
 <!-- carrot -->
 <path d="M124,114 C127,108 150,103 170,101 C177,100 178,106 174,108.5 C160,113 142,117.5 129,119 C124,119.5 122,117 124,114 Z" fill="#f26a28" stroke-width="1"/>
 <path d="M132,110 L134,114 M140,108 L142,112 M150,106 L151,110 M160,104 L161,108" stroke="#b84010" stroke-width="0.8" fill="none"/>
 <path d="M173,104 L181,102.5" stroke="#4c9a2c" stroke-width="3" fill="none"/>
 <path d="M179,100 C181,97 186,96 189,98 C192,96 197,97 199,100 C203,101 203,106 200,108 C201,112 197,115 193,114 C190,117 185,117 183,114 C179,115 177,112 178,109 C175,107 176,102 179,100 Z" fill="#6cbf45" stroke-width="0.8"/>
 <!-- fingers over carrot -->
 <path d="M145,104 C145,100 149,99 151,102 L152,112 C149,113 146,112 145,110 Z" fill="#fde2d3" stroke-width="1"/>
 <path d="M151,102 C152,98 156,98 157,101 L157.5,111 C155,112 152,112 151.5,110 Z" fill="#fde2d3" stroke-width="1"/>
 <path d="M157,100 C158,96 162,96 163,99 L163.5,109 C161,110 158,110 157.5,108 Z" fill="#fde2d3" stroke-width="1"/>
 <path d="M161,98 C161,94 165,93 166.5,96 L166,104 C164,105 162,104 161.5,102 Z" fill="#fde2d3" stroke-width="1"/>
 <!-- milk -->
 <path d="M102,147 L106,140 L118,139 L122,146 L122.5,161 L102.5,161 Z" fill="#a9cdef"/>
 <path d="M102,147 L122,146" fill="none" stroke-width="0.8"/>
 <path d="M106,153 L117,153" fill="none" stroke="#445" stroke-width="1.6"/>
 <!-- banana -->
 <path d="M78,143 C88,144 98,150 105,160 L101,163 C94,154 86,148 78,143 Z" fill="#f6dc1a"/>
 <path d="M82,139 C92,140 101,147 107,157 L104,160 C97,151 90,144 82,139 Z" fill="#f6dc1a"/>
 <path d="M86,137 C95,139 103,146 108,154 L106,157 C100,149 93,142 86,137 Z" fill="#f3d214"/>
 <!-- apple -->
 <circle cx="104" cy="163" r="7" fill="#e0312a"/>
 <!-- cheese -->
 <path d="M111,159 L127,155 L133,171 L115,176 Z" fill="#f2e45a"/>
 <circle cx="118" cy="163" r="1.5" fill="#d8c040" stroke="none"/><circle cx="125" cy="167" r="1.5" fill="#d8c040" stroke="none"/><circle cx="121" cy="170" r="1.2" fill="#d8c040" stroke="none"/>
 <!-- cuff -->
 <path d="M80,166 C84,172 88,178 92,183 L98,178 C94,174 90,168 87,162 Z" fill="#5a9e22"/>
 <!-- lower hand -->
 <path d="M95,172 C100,168 112,168 120,170 C125,172 125,178 121,180 C123,184 120,188 114,188 C106,189 98,188 95,184 C92,180 92,175 95,172 Z" fill="#fde2d3"/>
</g>
</svg>
<!-- arrows -->
<svg width="997" height="702">
<g fill="#4b6aa8" stroke="#4b6aa8" stroke-width="3.3">
<line x1="119.2" y1="273.3" x2="224.5" y2="328.1"/>
<path stroke="none" d="M240.5,336.4 L214.8,334.9 L223.6,327.6 L224.5,316.2 Z"/>
<line x1="119.2" y1="426.2" x2="224.6" y2="371.0"/>
<path stroke="none" d="M240.5,362.6 L224.6,382.8 L223.7,371.4 L214.8,364.2 Z"/>
<line x1="691.5" y1="330.8" x2="796.1" y2="275.8"/>
<path stroke="none" d="M812.0,267.4 L796.1,287.6 L795.2,276.2 L786.3,269.0 Z"/>
<line x1="691.5" y1="353.8" x2="796.0" y2="408.4"/>
<path stroke="none" d="M812.0,416.7 L786.3,415.1 L795.2,407.9 L796.0,396.5 Z"/>
<line x1="363.0" y1="341.5" x2="550.0" y2="341.5"/>
<path stroke="none" d="M568.0,341.5 L544.5,352.0 L549.0,341.5 L544.5,331.0 Z"/>
<line x1="464.5" y1="420.0" x2="464.5" y2="372.0"/>
<path stroke="none" d="M464.5,354.0 L475.0,377.5 L464.5,373.0 L454.0,377.5 Z"/>
</g>
</svg>

<div class="wm" style="left:335.5px;top:264.7px;letter-spacing:1.0px"><span style="letter-spacing:1.5px">www.</span>AcuPanacea.com</div>
<div class="wm" style="left:603.5px;top:624.5px;font-size:26px;line-height:26px;letter-spacing:0.67px"><span style="letter-spacing:1.86px">www.</span>AcuPanacea.com</div>
<div id="copy" style="position:absolute;left:413px;top:674px;font:18px/18px 'Liberation Sans',sans-serif;color:#1e1e1e;white-space:nowrap">©<span style="margin-left:7px;font-size:16px;font-weight:bold;font-style:italic;letter-spacing:0.85px;position:relative;top:0.5px">Panacea Point</span></div>
</body></html>
